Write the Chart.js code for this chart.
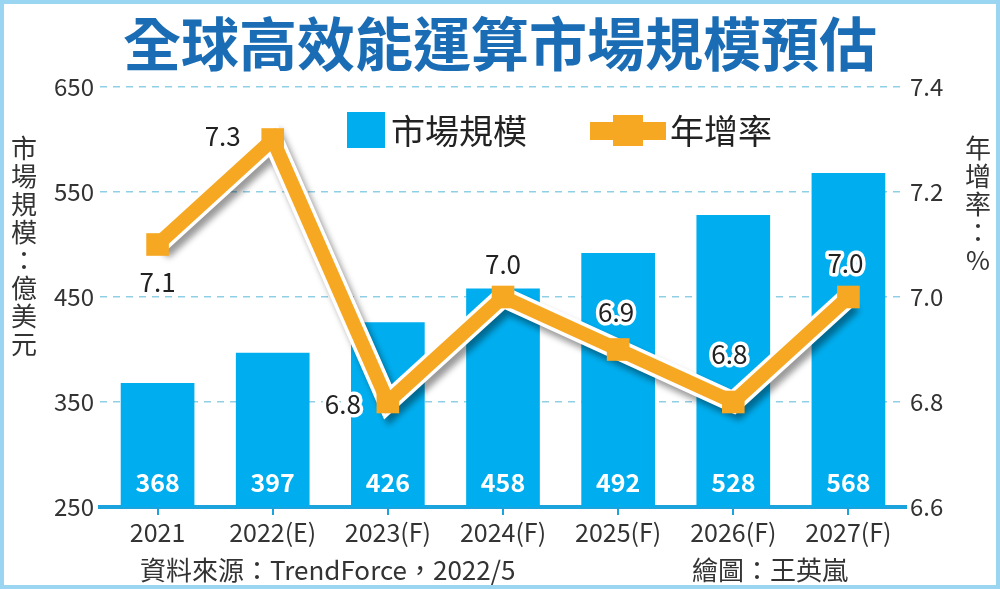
<!DOCTYPE html>
<html>
<head>
<meta charset="utf-8">
<script src="https://cdn.jsdelivr.net/npm/chart.js@4"></script>
<style>
  html, body { margin: 0; padding: 0; background: #fff; }
  #wrap { position: relative; width: 1000px; height: 589px; }
</style>
</head>
<body>
<div id="wrap"><canvas id="hpcChart"></canvas></div>
<script>
const years = ['2021', '2022(E)', '2023(F)', '2024(F)', '2025(F)', '2026(F)', '2027(F)'];
const marketSize = [368, 397, 426, 458, 492, 528, 568];
const growthRate = [7.1, 7.3, 6.8, 7.0, 6.9, 6.8, 7.0];
const leftTicks = [250, 350, 450, 550, 650];
const rightTicks = [6.6, 6.8, 7.0, 7.2, 7.4];

const FONT = '"Noto Sans CJK TC", "Noto Sans", sans-serif';
const BLUE = '#00aeef';
const ORANGE = '#f7a823';
const TITLE_BLUE = '#1a6db4';

// where each growth label sits relative to its point
const rateLabelOffsets = [[0, 38], [-50, -3], [-45, 2], [0, -33], [-2, -37], [-4, -48], [-3, -34]];

const decorations = {
  id: 'decorations',
  beforeDatasetDraw(chart, args) {
    if (args.index === 1) {
      const ctx = chart.ctx;
      ctx.save();
      ctx.shadowColor = 'rgba(0,0,0,0.4)';
      ctx.shadowOffsetX = 4;
      ctx.shadowOffsetY = 6;
      ctx.shadowBlur = 6;
    }
  },
  afterDatasetDraw(chart, args) {
    if (args.index === 1) chart.ctx.restore();
  },
  afterDatasetsDraw(chart) {
    const ctx = chart.ctx;
    const area = chart.chartArea;
    ctx.save();
    ctx.textAlign = 'center';
    ctx.textBaseline = 'middle';

    // bar values
    ctx.fillStyle = '#fff';
    ctx.font = 'bold 25px ' + FONT;
    chart.getDatasetMeta(0).data.forEach((bar, i) => {
      ctx.fillText(String(marketSize[i]), bar.x, area.bottom - 25);
    });

    // growth labels with white outline
    ctx.font = '26px ' + FONT;
    ctx.lineJoin = 'round';
    chart.getDatasetMeta(2).data.forEach((pt, i) => {
      const [dx, dy] = rateLabelOffsets[i];
      const txt = growthRate[i].toFixed(1);
      ctx.strokeStyle = '#fff';
      ctx.lineWidth = 7;
      ctx.strokeText(txt, pt.x + dx, pt.y + dy);
      ctx.fillStyle = '#222';
      ctx.fillText(txt, pt.x + dx, pt.y + dy);
    });
    ctx.restore();
  },
  afterDraw(chart) {
    const ctx = chart.ctx;
    ctx.save();

    // title
    ctx.fillStyle = TITLE_BLUE;
    ctx.font = 'bold 58px ' + FONT;
    ctx.textAlign = 'center';
    ctx.textBaseline = 'middle';
    ctx.fillText('全球高效能運算市場規模預估', 500, 44);

    // legend
    ctx.fillStyle = BLUE;
    ctx.fillRect(347, 112, 38, 36);
    ctx.fillStyle = '#222';
    ctx.font = '34px ' + FONT;
    ctx.textAlign = 'left';
    ctx.fillText('市場規模', 391, 131);
    ctx.fillStyle = ORANGE;
    ctx.fillRect(590, 122, 76, 18);
    ctx.fillRect(613, 115, 30, 31);
    ctx.fillStyle = '#222';
    ctx.fillText('年增率', 670, 131);

    // vertical axis titles
    ctx.font = '26px ' + FONT;
    ctx.textAlign = 'center';
    ctx.fillStyle = '#333';
    Array.from('市場規模：億美元').forEach((c, i) => ctx.fillText(c, 24, 148 + i * 28));
    Array.from('年增率：%').forEach((c, i) => ctx.fillText(c, 978, 148 + i * 28));

    // footer
    ctx.textAlign = 'left';
    ctx.fillText('資料來源：TrendForce，2022/5', 140, 570);
    ctx.fillText('繪圖：王英嵐', 692, 570);

    // frame
    ctx.strokeStyle = '#9ad6f2';
    ctx.lineWidth = 4;
    ctx.strokeRect(2, 2, 996, 585);
    ctx.restore();
  }
};

new Chart(document.getElementById('hpcChart'), {
  type: 'bar',
  data: {
    labels: years,
    datasets: [
      {
        type: 'bar',
        data: marketSize,
        backgroundColor: BLUE,
        yAxisID: 'y',
        barPercentage: 0.64,
        categoryPercentage: 1,
        order: 3
      },
      {
        type: 'line',
        data: growthRate,
        borderColor: '#fff',
        borderWidth: 21,
        pointRadius: 0,
        tension: 0,
        yAxisID: 'y1',
        order: 2
      },
      {
        type: 'line',
        data: growthRate,
        borderColor: ORANGE,
        borderWidth: 14,
        pointStyle: 'rect',
        pointRadius: 16,
        pointBackgroundColor: ORANGE,
        pointBorderWidth: 0,
        tension: 0,
        yAxisID: 'y1',
        order: 1
      }
    ]
  },
  options: {
    responsive: true,
    maintainAspectRatio: false,
    animation: false,
    events: [],
    layout: { padding: { top: 87, left: 0, right: 0, bottom: 0 } },
    plugins: {
      legend: { display: false },
      tooltip: { enabled: false }
    },
    scales: {
      x: {
        offset: true,
        grid: { drawOnChartArea: false, offset: false, tickLength: 8, color: '#1ba3de', lineWidth: 2 },
        border: { color: '#1ba3de', width: 4 },
        ticks: { font: { family: FONT, size: 25 }, color: '#333', padding: 2, maxRotation: 0 },
        afterFit: s => { s.height = 82; }
      },
      y: {
        position: 'left',
        min: 250,
        max: 650,
        afterBuildTicks: s => { s.ticks = leftTicks.map(v => ({ value: v })); },
        grid: { color: '#8fcfe6', lineWidth: 1.5, drawTicks: false },
        border: { display: false, dash: [7, 6] },
        ticks: { font: { family: FONT, size: 24 }, color: '#333', padding: 6 },
        afterFit: s => { s.width = 100; }
      },
      y1: {
        position: 'right',
        min: 6.6,
        max: 7.4,
        afterBuildTicks: s => { s.ticks = rightTicks.map(v => ({ value: v })); },
        grid: { drawOnChartArea: false, drawTicks: false },
        border: { display: false },
        ticks: { font: { family: FONT, size: 24 }, color: '#333', padding: 4, callback: v => v.toFixed(1) },
        afterFit: s => { s.width = 94; }
      }
    }
  },
  plugins: [decorations]
});
</script>
</body>
</html>
